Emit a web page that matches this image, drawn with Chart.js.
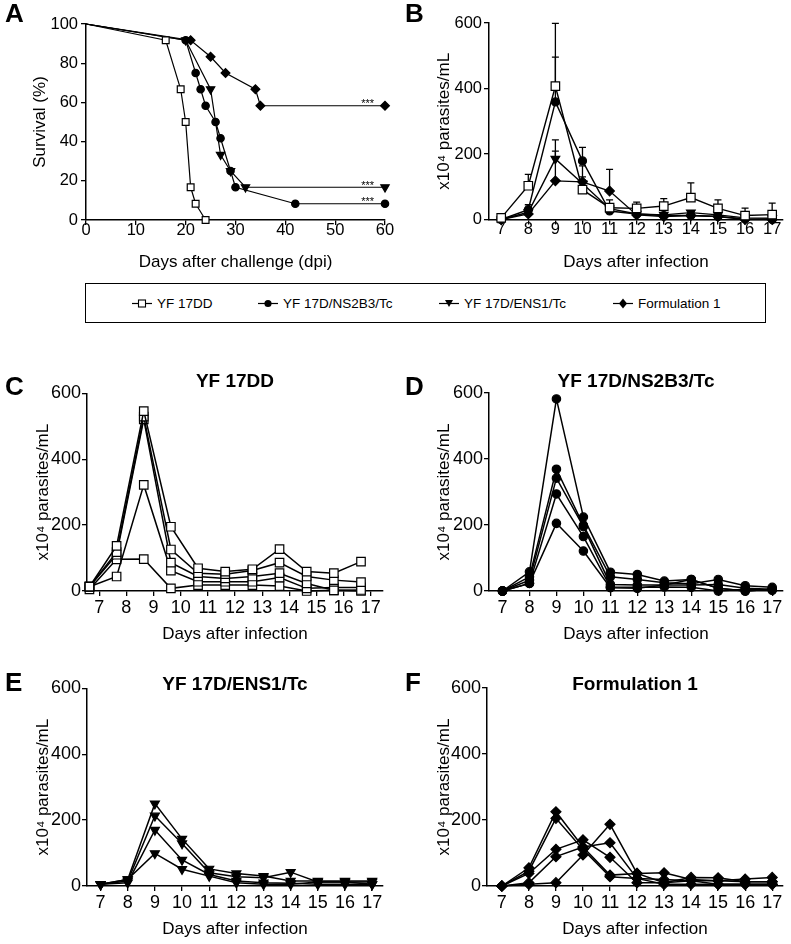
<!DOCTYPE html>
<html>
<head>
<meta charset="utf-8">
<script src="https://cdn.jsdelivr.net/npm/chart.js@4.4.1/dist/chart.umd.min.js"></script>
<style>
  body { margin: 0; background: #fff; }
  #fig { position: relative; width: 791px; height: 944px; font-family: 'Liberation Sans', Arial, sans-serif; color: #000; }
  #fig canvas { position: absolute; }
  #legend { position: absolute; left: 85px; top: 283px; width: 681px; height: 40px; border: 1px solid #000; box-sizing: border-box; }
  .item { position: absolute; top: 0; height: 38px; display: flex; align-items: center; font-size: 13.5px; white-space: nowrap; }
  .item svg { margin-right: 5px; }
</style>
</head>
<body>
<div id="fig">
  <canvas id="chartA" width="395" height="273" style="left:0;top:0"></canvas>
  <canvas id="chartB" width="391" height="273" style="left:400px;top:0"></canvas>
  <canvas id="chartC" width="395" height="285" style="left:0;top:360px"></canvas>
  <canvas id="chartD" width="391" height="285" style="left:400px;top:360px"></canvas>
  <canvas id="chartE" width="395" height="285" style="left:0;top:655px"></canvas>
  <canvas id="chartF" width="391" height="285" style="left:400px;top:655px"></canvas>
  <div id="legend"></div>
</div>
<script>
// ---- data ----
const groups = ['YF 17DD', 'YF 17D/NS2B3/Tc', 'YF 17D/ENS1/Tc', 'Formulation 1'];
const days = [7, 8, 9, 10, 11, 12, 13, 14, 15, 16, 17];
const challengeTicks = [0, 10, 20, 30, 40, 50, 60];
const survivalTicks = [0, 20, 40, 60, 80, 100];
const parasiteTicks = [0, 200, 400, 600];

// A: survival (%) after challenge
const survDays17DD = [0, 16, 19, 20, 21, 22, 24];
const surv17DD = [100, 91.7, 66.7, 50, 16.7, 8.3, 0];
const survDaysNS2B3 = [0, 20, 22, 23, 24, 26, 27, 29, 30, 42, 60];
const survNS2B3 = [100, 91.7, 75, 66.7, 58.3, 50, 41.7, 25, 16.7, 8.3, 8.3];
const survDaysENS1 = [0, 20, 25, 27, 29, 32, 60];
const survENS1 = [100, 91.7, 66.7, 33.3, 25, 16.7, 16.7];
const survDaysForm1 = [0, 21, 25, 28, 34, 35, 60];
const survForm1 = [100, 91.7, 83.3, 75, 66.7, 58.3, 58.3];
const significance = ['', '***', '***', '***'];

// B: mean parasitemia and SEM (upper bars only)
const mean17DD = [5, 103, 407, 91, 36, 34, 41, 67, 34, 12, 15];
const sem17DD = [0, 35, 192, 29, 24, 19, 23, 45, 26, 23, 35];
const meanNS2B3 = [0, 30, 359, 179, 26, 17, 12, 12, 9, 2, 0];
const semNS2B3 = [0, 15, 137, 41, 6, 5, 4, 5, 5, 3, 2];
const meanENS1 = [0, 22, 185, 110, 33, 17, 14, 21, 14, 5, 4];
const semENS1 = [0, 12, 58, 54, 8, 5, 4, 6, 4, 3, 2];
const meanForm1 = [0, 17, 118, 115, 87, 14, 9, 12, 9, 0, 0];
const semForm1 = [0, 8, 91, 15, 66, 5, 4, 4, 3, 2, 2];

// C-F: individual mice
const mice17DD = [
  [13, 137, 546, 195, 69, 59, 66, 127, 59, 54, 89],
  [13, 118, 529, 126, 54, 51, 62, 86, 44, 33, 27],
  [13, 110, 521, 86, 44, 38, 44, 54, 23, 2, 3],
  [13, 44, 322, 62, 28, 28, 28, 41, 8, 11, 11],
  [5, 96, 97, 8, 18, 18, 18, 15, 0, 2, 0]
];
const day17DDShift = -0.36; // panel C points sit left of the day ticks
const miceNS2B3 = [
  [0, 58, 582, 224, 57, 50, 30, 35, 8, 0, 5],
  [0, 43, 369, 199, 43, 35, 25, 22, 35, 16, 11],
  [0, 33, 342, 195, 20, 18, 18, 18, 20, 8, 5],
  [0, 23, 294, 165, 12, 11, 12, 11, 0, 5, 2],
  [0, 23, 205, 121, 10, 8, 18, 35, 8, 0, 5]
];
const miceENS1 = [
  [5, 20, 250, 143, 52, 38, 30, 15, 15, 15, 15],
  [5, 15, 213, 129, 40, 28, 25, 42, 12, 12, 12],
  [5, 10, 170, 79, 35, 15, 10, 8, 5, 5, 5],
  [5, 20, 99, 51, 30, 10, 5, 5, 12, 12, 5]
];
const miceForm1 = [
  [0, 55, 225, 118, 33, 38, 40, 20, 16, 13, 13],
  [0, 45, 205, 111, 28, 23, 20, 16, 16, 21, 26],
  [0, 38, 111, 140, 87, 10, 10, 26, 25, 13, 13],
  [0, 10, 89, 118, 131, 23, 5, 5, 5, 5, 5],
  [0, 5, 10, 94, 187, 38, 10, 16, 5, 5, 5]
];

// ---- styling ----
const black = '#000';
const family = "'Liberation Sans', Arial, Helvetica, sans-serif";
Chart.defaults.font.family = family;
Chart.defaults.color = black;
Chart.defaults.animation = false;

const markers = [
  { pointStyle: 'rect', pointBackgroundColor: '#fff', pointRotation: 0 },
  { pointStyle: 'circle', pointBackgroundColor: black, pointRotation: 0 },
  { pointStyle: 'triangle', pointBackgroundColor: black, pointRotation: 180 },
  { pointStyle: 'rectRot', pointBackgroundColor: black, pointRotation: 0 }
];

function series(xs, ys, group, radius, extra) {
  return Object.assign({
    label: groups[group],
    data: xs.map((x, i) => ({ x: x, y: ys[i] })),
    borderColor: black,
    borderWidth: 1.4,
    pointBorderColor: black,
    pointBorderWidth: 1.2,
    pointRadius: radius,
    pointHoverRadius: radius,
    tension: 0,
    fill: false,
    clip: false
  }, markers[group], extra || {});
}

// upward SEM bars for panel B
const errorBars = {
  id: 'errorBars',
  beforeDatasetsDraw(chart) {
    const ctx = chart.ctx, xs = chart.scales.x, ys = chart.scales.y;
    ctx.save();
    ctx.strokeStyle = black;
    ctx.lineWidth = 1.3;
    chart.data.datasets.forEach(ds => {
      if (!ds.errors) return;
      ds.data.forEach((p, i) => {
        const e = ds.errors[i];
        if (!e) return;
        const px = xs.getPixelForValue(p.x);
        const y0 = ys.getPixelForValue(p.y);
        const y1 = ys.getPixelForValue(p.y + e);
        ctx.beginPath();
        ctx.moveTo(px, y0); ctx.lineTo(px, y1);
        ctx.moveTo(px - 3.5, y1); ctx.lineTo(px + 3.5, y1);
        ctx.stroke();
      });
    });
    ctx.restore();
  }
};

// panel letter, bold panel title and significance stars
const panelText = {
  id: 'panelText',
  afterDraw(chart, args, opts) {
    const ctx = chart.ctx, a = chart.chartArea;
    ctx.save();
    ctx.fillStyle = black;
    ctx.textBaseline = 'alphabetic';
    if (opts.letter) {
      ctx.font = 'bold 26px ' + family;
      ctx.textAlign = 'left';
      ctx.fillText(opts.letter, 5, opts.letterY);
    }
    if (opts.title) {
      ctx.font = 'bold 19px ' + family;
      ctx.textAlign = 'center';
      ctx.fillText(opts.title, (a.left + a.right) / 2, opts.titleY);
    }
    if (opts.stars) {
      ctx.font = '11px ' + family;
      ctx.textAlign = 'right';
      chart.data.datasets.forEach((ds, i) => {
        if (!opts.stars[i]) return;
        const last = ds.data[ds.data.length - 1];
        ctx.fillText(opts.stars[i], chart.scales.x.getPixelForValue(last.x) - 11,
          chart.scales.y.getPixelForValue(last.y) + 1.5);
      });
    }
    ctx.restore();
  }
};

function options(o) {
  return {
    responsive: false,
    animation: false,
    layout: { padding: { left: 0, top: o.top, right: o.right, bottom: 0 } },
    plugins: {
      legend: { display: false },
      tooltip: { enabled: false },
      panelText: o.text
    },
    scales: {
      x: {
        type: 'linear',
        min: o.xMin,
        max: o.xMax,
        afterBuildTicks: s => { s.ticks = o.xTicks.map(v => ({ value: v })); },
        afterFit: s => { s.height = o.xHeight; },
        grid: { drawOnChartArea: false, drawTicks: true, tickLength: 5, color: black, lineWidth: 1.3 },
        border: { display: true, color: black, width: 1.5 },
        ticks: { font: { size: o.tickSize }, color: black, padding: o.xPad, maxRotation: 0, autoSkip: false },
        title: { display: true, text: o.xTitle, font: { size: 17 }, color: black, padding: { top: 0, bottom: 0 } }
      },
      y: {
        type: 'linear',
        min: 0,
        max: o.yTicks[o.yTicks.length - 1],
        afterBuildTicks: s => { s.ticks = o.yTicks.map(v => ({ value: v })); },
        afterFit: s => { s.width = o.yWidth; },
        grid: { drawOnChartArea: false, drawTicks: true, tickLength: 5, color: black, lineWidth: 1.3 },
        border: { display: true, color: black, width: 1.5 },
        ticks: { font: { size: o.tickSize }, color: black, padding: o.yPad },
        title: { display: true, text: o.yTitle, font: { size: 17 }, color: black, padding: { top: o.yTitlePad, bottom: 0 } }
      }
    }
  };
}

// A: survival
const noStartMarker = r => c => (c.raw && c.raw.x === 0 ? 0 : r);
new Chart(document.getElementById('chartA'), {
  type: 'line',
  data: {
    datasets: [
      series(survDays17DD, surv17DD, 0, 4.8, { pointRadius: noStartMarker(4.8), borderWidth: 1.2 }),
      series(survDaysNS2B3, survNS2B3, 1, 3.7, { pointRadius: noStartMarker(3.7), borderWidth: 1.2 }),
      series(survDaysENS1, survENS1, 2, 4.8, { pointRadius: noStartMarker(4.8), borderWidth: 1.2 }),
      series(survDaysForm1, survForm1, 3, 4.4, { pointRadius: noStartMarker(4.4), borderWidth: 1.2 })
    ]
  },
  options: options({
    top: 24, right: 10, xHeight: 53, yWidth: 86,
    xMin: 0, xMax: 60, xTicks: challengeTicks, yTicks: survivalTicks,
    tickSize: 16.5, xPad: -4.5, yPad: 3, yTitlePad: 29.8,
    xTitle: 'Days after challenge (dpi)', yTitle: 'Survival (%)',
    text: { letter: 'A', letterY: 22, stars: significance }
  }),
  plugins: [panelText]
});

// B: group means
new Chart(document.getElementById('chartB'), {
  type: 'line',
  data: {
    datasets: [
      series(days, mean17DD, 0, 6, { errors: sem17DD }),
      series(days, meanNS2B3, 1, 4, { errors: semNS2B3 }),
      series(days, meanENS1, 2, 5, { errors: semENS1 }),
      series(days, meanForm1, 3, 4.8, { errors: semForm1 })
    ]
  },
  options: options({
    top: 23, right: 8, xHeight: 53.5, yWidth: 89,
    xMin: 6.55, xMax: 17.4, xTicks: days, yTicks: parasiteTicks,
    tickSize: 16.5, xPad: -4.5, yPad: 2, yTitlePad: 33.8,
    xTitle: 'Days after infection', yTitle: 'x10\u2074 parasites/mL',
    text: { letter: 'B', letterY: 22 }
  }),
  plugins: [errorBars, panelText]
});

// C-F: individual mice per group
function miceChart(id, mice, group, radius, xs, cfg) {
  new Chart(document.getElementById(id), {
    type: 'line',
    data: { datasets: mice.map(m => series(xs, m, group, radius, { borderWidth: 1.5 })) },
    options: options(Object.assign({
      top: 33.3, xHeight: 54, tickSize: 18, xPad: 1.3, yPad: 1,
      xTicks: days, yTicks: parasiteTicks,
      xTitle: 'Days after infection', yTitle: 'x10\u2074 parasites/mL'
    }, cfg)),
    plugins: [panelText]
  });
}

miceChart('chartC', mice17DD, 0, 6, days.map(d => d + day17DDShift),
  { right: 12, yWidth: 87, xMin: 6.55, xMax: 17.45, yTitlePad: 33.2,
    text: { letter: 'C', letterY: 35, title: groups[0], titleY: 27 } });
miceChart('chartD', miceNS2B3, 1, 4.2, days,
  { top: 33, right: 8, yWidth: 89, xMin: 6.5, xMax: 17.4, yTitlePad: 34.2,
    text: { letter: 'D', letterY: 35, title: groups[1], titleY: 27 } });
miceChart('chartE', miceENS1, 2, 5.2, days,
  { right: 12, yWidth: 87, xMin: 6.5, xMax: 17.4, yTitlePad: 33.2,
    text: { letter: 'E', letterY: 36, title: groups[2], titleY: 35 } });
miceChart('chartF', miceForm1, 3, 5, days,
  { top: 33, right: 8, yWidth: 87, xMin: 6.45, xMax: 17.4, yTitlePad: 34.2,
    text: { letter: 'F', letterY: 36, title: groups[3], titleY: 35 } });

// shared legend, items spread evenly across the box
const legendX = [46, 172, 353, 527];
const legendShapes = [
  '<rect x="6.5" y="3" width="7" height="7" fill="#fff" stroke="#000" stroke-width="1.1"/>',
  '<circle cx="10" cy="6.5" r="3.6" fill="#000"/>',
  '<polygon points="6,3 14,3 10,10" fill="#000"/>',
  '<polygon points="10,1.5 14,6.5 10,11.5 6,6.5" fill="#000"/>'
];
const legend = document.getElementById('legend');
groups.forEach((g, i) => {
  const item = document.createElement('div');
  item.className = 'item';
  item.style.left = legendX[i] + 'px';
  item.innerHTML = '<svg width="20" height="13"><line x1="0" y1="6.5" x2="20" y2="6.5" stroke="#000" stroke-width="1.2"/>' +
    legendShapes[i] + '</svg><span>' + g + '</span>';
  legend.appendChild(item);
});
</script>
</body>
</html>
